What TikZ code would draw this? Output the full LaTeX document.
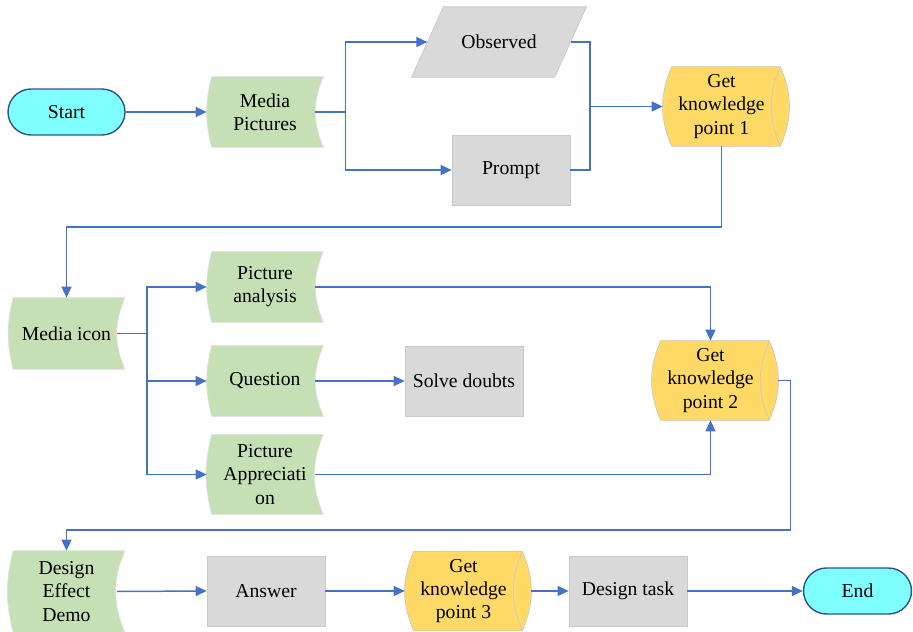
\documentclass[tikz,border=0pt]{standalone}
\usepackage{fontspec}
\setmainfont{Liberation Serif}
\newfontfamily\flowfont{Liberation Serif}
\usetikzlibrary{arrows.meta, calc, backgrounds}
\definecolor{termcyan}{HTML}{80FFFF}
\definecolor{termblue}{HTML}{2F528F}
\definecolor{mediagreen}{HTML}{C5E0B4}
\definecolor{pointyellow}{HTML}{FFD966}
\definecolor{taskgray}{HTML}{D9D9D9}
\definecolor{shapeedge}{HTML}{C9C9C9}
\definecolor{flowblue}{HTML}{4472C4}

\begin{document}
\begin{tikzpicture}[
        x=0.02cm, y=-0.02cm,
        every node/.style = {font=\flowfont\fontsize{11.2}{13.2}\selectfont, align=center, inner sep=1pt},
        term/.style  = {draw=termblue, line width=0.8pt, fill=termcyan, rounded corners=0.46cm, minimum width=2.34cm, minimum height=0.92cm},
        media/.style = {minimum width=2.32cm, minimum height=1.4cm},
        point/.style = {minimum width=2.34cm, minimum height=1.58cm},
        task/.style  = {draw=shapeedge, fill=taskgray, minimum width=2.36cm, minimum height=1.4cm},
        line/.style  = {draw=flowblue, line width=0.85pt},
        arrow/.style = {line, -{Triangle[length=2.2mm, width=2mm]}},
    ]
        \useasboundingbox (0,0) rectangle (913,632);
        % first row
        \node[term] (start) at (66.5,112) {Start};
        \node[media] (mp) at (265,112) {Media\\Pictures};
        \node[media, minimum width=2.85cm] (obs) at (499,42) {Observed};
        \node[task] (prompt) at (511,170) {Prompt};
        \node[point] (gkp1) at (721.5,106.5) {Get\\knowledge\\point 1};
        % second row
        \node[media, minimum height=1.42cm] (mi) at (66.5,333.5) {Media icon};
        \node[media] (pa) at (265,287) {Picture\\analysis};
        \node[media] (q) at (265,381) {Question};
        \node[media, minimum height=1.58cm] (papp) at (265,474.5) {Picture\\Appreciati\\on};
        \node[task] (sd) at (464,381) {Solve doubts};
        \node[point] (gkp2) at (710.5,380.5) {Get\\knowledge\\point 2};
        % third row
        \node[media, minimum height=1.62cm] (ded) at (66.5,591.5) {Design\\Effect\\Demo};
        \node[task] (ans) at (266,591) {Answer};
        \node[point] (gkp3) at (463.5,591) {Get\\knowledge\\point 3};
        \node[task] (dt) at (628,591) {Design task};
        \node[term, minimum width=2.16cm] (end) at (857.5,591) {End};

        \begin{scope}[on background layer]
            \foreach \n in {mp, mi, pa, q, papp, ded}
                \path[fill=mediagreen, draw=shapeedge!60] ($(\n.north west)+(5,0)$) -- (\n.north east)
                    to[bend right=23] (\n.south east) -- ($(\n.south west)+(5,0)$)
                    to[bend left=14] ($(\n.north west)+(5,0)$) -- cycle;
            \foreach \n in {gkp1, gkp2, gkp3} {
                \path[fill=pointyellow, draw=shapeedge] ($(\n.north west)+(9,0)$) -- (\n.north east)
                    to[bend left=23] (\n.south east) -- ($(\n.south west)+(9,0)$)
                    to[bend left=23] ($(\n.north west)+(9,0)$) -- cycle;
                \draw[shapeedge] (\n.north east) to[bend right=23] (\n.south east);
            }
            \path[fill=taskgray, draw=shapeedge] ($(obs.north west)+(16,0)$) -- ($(obs.north east)+(16,0)$)
                -- ($(obs.south east)+(-16,0)$) -- ($(obs.south west)+(-16,0)$) -- cycle;
        \end{scope}

        % connectors
        \coordinate (join1) at (590,106.5);
        \coordinate (turn1) at (400,227);
        \coordinate (turn2) at (400,530);
        \draw[arrow] (start) -- (mp);
        \draw[arrow] ($(mp.east)+(-8,0)$) -- ++(30,0) coordinate (fork1) |- (obs.west);
        \draw[arrow] (fork1) |- (prompt.west);
        \draw[line] (obs.east) -| (join1);
        \draw[line] (prompt.east) -| (join1);
        \draw[arrow] (join1) -- (gkp1.west);
        \draw[arrow] (gkp1.south) |- (turn1) -| (mi.north);
        \draw[line] ($(mi.east)+(-8,0)$) -- ++(30,0) coordinate (fork2);
        \foreach \t in {pa, q, papp}
            \draw[arrow] (fork2) |- (\t.west);
        \draw[arrow] ($(q.east)+(-8,0)$) -- (sd.west);
        \draw[arrow] ($(pa.east)+(-8,0)$) -| (gkp2.north);
        \draw[arrow] ($(papp.east)+(-8,0)$) -| (gkp2.south);
        \draw[arrow] ($(gkp2.east)+(9,0)$) -- ++(12,0) |- (turn2) -| (ded.north);
        \draw[arrow] ($(ded.east)+(-8,0)$) -- (ans.west);
        \draw[arrow] (ans) -- (gkp3);
        \draw[arrow] ($(gkp3.east)+(9,0)$) -- (dt.west);
        \draw[arrow] (dt) -- (end);
    \end{tikzpicture}
\end{document}
